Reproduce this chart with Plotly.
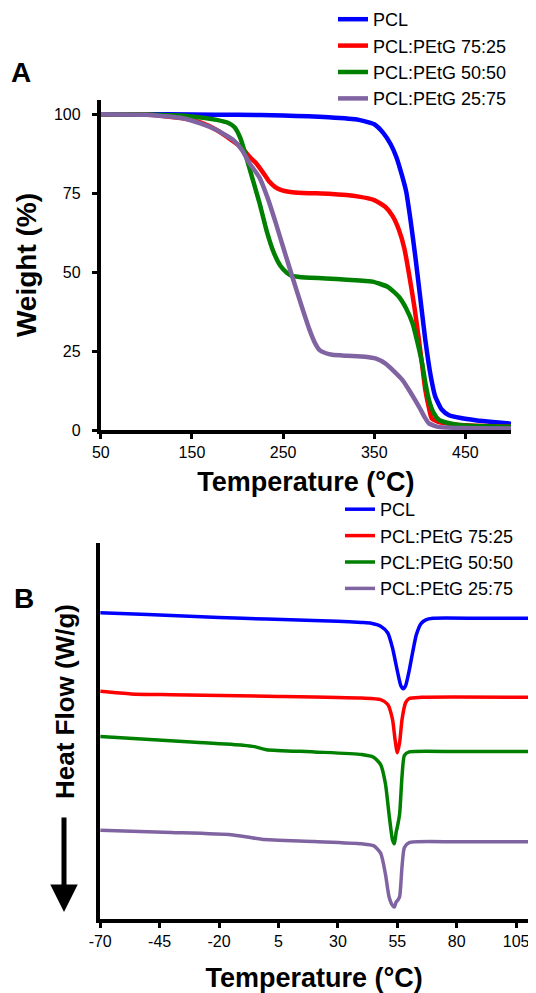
import plotly.graph_objects as go

FONT = "Liberation Sans, Arial, sans-serif"

# ---------------- Panel A: TGA ----------------
names = ["PCL", "PCL:PEtG 75:25", "PCL:PEtG 50:50", "PCL:PEtG 25:75"]
colors = ["#0000FF", "#FF0000", "#008000", "#8064A2"]

tga_pcl_T = [50, 100, 150, 200, 250, 300, 333, 350, 360, 368, 374, 380, 385, 390, 395, 400, 406, 412, 417, 424, 432, 445, 461, 480, 500]
tga_pcl_W = [100, 100, 99.9, 99.8, 99.6, 99.0, 98.2, 96.8, 94.0, 90.5, 86.6, 81, 75.5, 66, 55, 43, 28.5, 17, 10.5, 6.5, 4.7, 3.8, 3.1, 2.5, 2.0]

tga_7525_T = [50, 100, 140, 160, 177, 195, 205, 213, 220, 228, 235, 241, 246, 253, 260, 279, 300, 333, 350, 362, 370, 377, 383, 388, 394, 399, 403, 406, 410, 413, 420, 428, 450, 500]
tga_7525_W = [100, 99.9, 98.7, 97.3, 95, 91.5, 89.3, 86.6, 84.6, 81.5, 78.6, 77.0, 76.2, 75.6, 75.3, 75.0, 74.8, 73.9, 72.8, 70.7, 67.8, 63.4, 57.5, 49.6, 39, 28.5, 19.5, 12.7, 7, 3.7, 2.6, 2.1, 1.5, 1.0]

tga_5050_T = [50, 100, 150, 177, 190, 197, 203, 208, 213, 218, 224, 232, 240, 247, 254, 260, 270, 280, 297, 320, 348, 365, 377, 385, 392, 398, 402.5, 406, 410, 415, 421, 430, 443, 470, 500]
tga_5050_W = [100, 99.9, 99.3, 98.2, 97.2, 95.8, 92.5, 88, 83, 78, 72, 63, 56, 52, 49.8, 48.8, 48.4, 48.2, 48.0, 47.6, 47.0, 45.3, 42.2, 38.5, 33.8, 27, 21.1, 15, 9.5, 5.5, 3.2, 2.3, 1.6, 1.2, 1.0]

tga_2575_T = [50, 100, 140, 160, 177, 195, 205, 213, 224, 233, 242, 251, 260, 270, 279, 285, 290, 297, 304, 320, 340, 352, 362, 372, 381, 390, 399, 405, 410, 420, 450, 500]
tga_2575_W = [100, 99.8, 98.7, 97, 95, 91.9, 88.6, 84.5, 80, 73.5, 65.5, 57, 48.6, 39.5, 31.7, 27.5, 25.3, 24.3, 23.8, 23.5, 23.2, 22.6, 21.1, 18.5, 15.8, 11.8, 7.4, 4.2, 2.1, 1.0, 0.6, 0.5]

tga_x_ticks = [50, 150, 250, 350, 450]
tga_y_ticks = [0, 25, 50, 75, 100]

# ---------------- Panel B: DSC (arbitrary units) ----------------
dsc_pcl_T = [-70, -50, -30, -10, 10, 30, 40, 44, 48, 51, 53, 55, 56.5, 57.5, 58.5, 60, 61.5, 63, 65, 67, 70, 90, 110]
dsc_pcl_H = [81.4, 80.9, 80.4, 79.9, 79.5, 79.1, 78.8, 78.6, 77.8, 76, 72, 66, 62, 61.2, 62, 66, 71, 75.5, 78.5, 79.5, 79.9, 79.9, 79.9]

dsc_7525_T = [-70, -57, -40, 0, 40, 48, 51, 53, 54, 55, 56, 57, 58.5, 60, 65, 110]
dsc_7525_H = [60.5, 59.8, 59.6, 59.2, 58.7, 58.3, 57, 53, 48, 44.2, 47, 53, 57.5, 58.6, 58.9, 58.9]

dsc_5050_T = [-70, -30, -10, -5, 0, 20, 40, 45, 48, 50, 51.5, 53, 53.8, 54.5, 55.2, 56, 57, 58, 60, 80, 110]
dsc_5050_H = [48.5, 47.0, 46.2, 45.8, 45.0, 44.4, 43.7, 43.0, 41, 36, 28, 21, 20.0, 23, 25.0, 28, 38, 43.5, 44.4, 44.5, 44.5]

dsc_2575_T = [-70, -40, -15, -8, -2, 20, 40, 45, 48, 50, 51.5, 53, 53.8, 54.5, 55.2, 56, 57, 58, 60, 80, 110]
dsc_2575_H = [23.6, 23.0, 22.4, 21.8, 21.2, 20.6, 20.0, 19.5, 17.5, 12, 6, 3.6, 3.2, 4.5, 5.0, 6, 14, 19, 20.3, 20.5, 20.5]

dsc_x_ticks = [-70, -45, -20, 5, 30, 55, 80, 105]
dsc_x_ticktext = ["-70", "-45", "-20", "5", "30", "55", "80", "105"]

tga_T = [tga_pcl_T, tga_7525_T, tga_5050_T, tga_2575_T]
tga_W = [tga_pcl_W, tga_7525_W, tga_5050_W, tga_2575_W]
dsc_T = [dsc_pcl_T, dsc_7525_T, dsc_5050_T, dsc_2575_T]
dsc_H = [dsc_pcl_H, dsc_7525_H, dsc_5050_H, dsc_2575_H]

# page has an 8px body margin: figure sits at (8, 8) in the window
OFF = 8
W, H = 536 - OFF, 993 - OFF

fig = go.Figure()
for i in range(4):
    fig.add_trace(go.Scatter(x=tga_T[i], y=tga_W[i], mode="lines", name=names[i],
                             line=dict(color=colors[i], width=4.5, shape="spline", smoothing=0.5),
                             xaxis="x", yaxis="y", legend="legend"))
for i in range(4):
    fig.add_trace(go.Scatter(x=dsc_T[i], y=dsc_H[i], mode="lines", name=names[i],
                             line=dict(color=colors[i], width=3.5, shape="spline", smoothing=0.6),
                             xaxis="x2", yaxis="y2", legend="legend2"))

def px_x(p):
    return (p - OFF) / W

def px_y(p):
    return 1 - (p - OFF) / H

axis_common = dict(showline=True, linecolor="black", linewidth=4, showgrid=False, zeroline=False,
                   ticks="outside", tickcolor="black", tickwidth=3, ticklen=5, automargin=False,
                   tickfont=dict(family=FONT, size=16, color="black"))

fig.update_layout(
    width=W, height=H,
    margin=dict(l=0, r=0, t=0, b=0, autoexpand=False),
    paper_bgcolor="white", plot_bgcolor="white",
    font=dict(family=FONT, color="black"),
    xaxis=dict(domain=[px_x(100.8), px_x(511)], range=[50, 500], tickvals=tga_x_ticks,
               anchor="y",
               title=dict(text="<b>Temperature (°C)</b>", font=dict(size=27, family=FONT), standoff=13),
               **axis_common),
    yaxis=dict(domain=[px_y(430), px_y(100)], range=[0, 104.5], tickvals=tga_y_ticks,
               anchor="x", ticklabelstandoff=8,
               title=dict(text="<b>Weight (%)</b>", font=dict(size=28, family=FONT), standoff=10),
               **axis_common),
    xaxis2=dict(domain=[px_x(100.2), px_x(528)], range=[-70, 110], tickvals=dsc_x_ticks,
                ticktext=dsc_x_ticktext, anchor="y2",
                title=dict(text="<b>Temperature (°C)</b>", font=dict(size=27, family=FONT), standoff=24),
                **axis_common),
    yaxis2=dict(domain=[px_y(919), px_y(542.7)], range=[0, 100], anchor="x2", automargin=False,
                showline=True, linecolor="black", linewidth=4, showgrid=False, zeroline=False,
                showticklabels=False, ticks=""),
    legend=dict(x=px_x(333), y=px_y(1), xanchor="left", yanchor="top",
                font=dict(family=FONT, size=18, color="black"), tracegroupgap=0,
                bgcolor="rgba(0,0,0,0)"),
    legend2=dict(x=px_x(340), y=px_y(491), xanchor="left", yanchor="top",
                 font=dict(family=FONT, size=18, color="black"), tracegroupgap=0,
                 bgcolor="rgba(0,0,0,0)"),
    showlegend=True,
)

fig.add_annotation(text="<b>A</b>", x=px_x(21), y=px_y(73), xref="paper", yref="paper",
                   xanchor="center", yanchor="middle",
                   showarrow=False, font=dict(family=FONT, size=28, color="black"))
fig.add_annotation(text="<b>B</b>", x=px_x(24), y=px_y(598), xref="paper", yref="paper",
                   xanchor="center", yanchor="middle",
                   showarrow=False, font=dict(family=FONT, size=28, color="black"))
fig.add_annotation(text="<b>Heat Flow (W/g)</b>", x=px_x(65), y=px_y(702), xref="paper", yref="paper",
                   xanchor="center", yanchor="middle",
                   showarrow=False, textangle=-90, font=dict(family=FONT, size=26, color="black"))
fig.add_annotation(text="", x=px_x(64), y=px_y(912), xref="paper", yref="paper",
                   ax=0, ay=-96, axref="pixel", ayref="pixel",
                   showarrow=True, arrowhead=2, arrowsize=1.1, arrowwidth=5, arrowcolor="black")

fig.write_html("out.html")
